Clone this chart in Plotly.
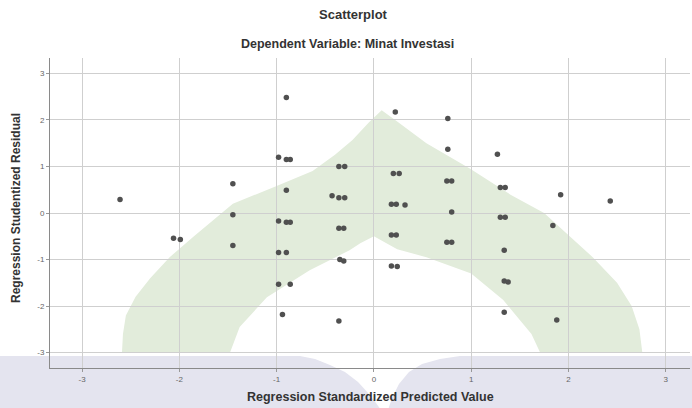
import plotly.graph_objects as go

# ---- data ----
pred_x = [-2.61, -2.06, -1.99, -1.45, -1.45, -1.45,
          -0.98, -0.90, -0.86, -0.90, -0.90, -0.98, -0.90, -0.86, -0.98, -0.90, -0.98, -0.86, -0.94,
          -0.36, -0.30, -0.43, -0.36, -0.30, -0.36, -0.31, -0.35, -0.31, -0.36,
          0.22, 0.20, 0.26, 0.18, 0.23, 0.32, 0.18, 0.23, 0.18, 0.24,
          0.76, 0.76, 0.75, 0.80, 0.80, 0.75, 0.80,
          1.27, 1.30, 1.35, 1.30, 1.35, 1.34, 1.34, 1.38, 1.34,
          1.84, 1.88, 1.92, 2.43]
resid_y = [0.29, -0.54, -0.57, 0.63, -0.04, -0.70,
           1.20, 1.15, 1.15, 2.48, 0.49, -0.17, -0.20, -0.20, -0.85, -0.85, -1.53, -1.53, -2.18,
           1.00, 1.00, 0.37, 0.33, 0.33, -0.33, -0.33, -1.00, -1.03, -2.32,
           2.17, 0.85, 0.85, 0.19, 0.19, 0.17, -0.47, -0.47, -1.14, -1.15,
           2.03, 1.37, 0.69, 0.69, 0.02, -0.63, -0.63,
           1.26, 0.55, 0.55, -0.09, -0.09, -0.80, -1.46, -1.48, -2.13,
           -0.27, -2.30, 0.39, 0.26]
tick_vals = [-3, -2, -1, 0, 1, 2, 3]
tick_text = ["-3", "-2", "-1", "0", "1", "2", "3"]

# decorative green arch outline (data coords)
arch_outer = [(-2.59, -3.0), (-2.58, -2.6), (-2.55, -2.2), (-2.45, -1.8), (-2.3, -1.4),
              (-2.1, -0.95), (-1.85, -0.5), (-1.45, 0.2), (-1.0, 0.58), (-0.63, 0.9),
              (-0.4, 1.25), (-0.22, 1.57), (-0.05, 1.95), (0.08, 2.21),
              (0.25, 1.95), (0.54, 1.5), (0.99, 0.95), (1.4, 0.4), (1.75, 0.0),
              (2.25, -0.95), (2.5, -1.5), (2.65, -2.0), (2.73, -2.5), (2.76, -3.0)]
arch_inner = [(1.71, -3.0), (1.62, -2.6), (1.5, -2.3), (1.33, -1.87), (1.0, -1.3),
              (0.54, -0.95), (0.24, -0.78), (0.0, -0.5), (-0.14, -0.65), (-0.25, -0.8),
              (-0.66, -1.23), (-1.1, -1.81), (-1.38, -2.45), (-1.48, -3.0)]

# plot-area pixel geometry
W, H = 692, 408
L, R, T, B = 50, 2, 58, 40
PW, PH = W - L - R, H - T - B


def px2paper(px, py):
    return (px - L) / PW, (H - B - py) / PH


def path_from(points):
    return "M " + " L ".join(f"{x:.4f},{y:.4f}" for x, y in points) + " Z"


wedge_px = [(285, 354), (300, 356), (315, 359), (330, 365), (345, 372), (358, 382),
            (368, 393), (376, 403), (381, 410), (388, 410), (392, 398), (399, 384),
            (409, 372), (422, 364), (440, 359), (460, 356), (480, 354)]

fig = go.Figure()
fig.add_trace(go.Scatter(
    x=pred_x, y=resid_y, mode="markers",
    marker=dict(size=5.5, color="#505050", line=dict(width=0)),
    hoverinfo="x+y", showlegend=False))

shapes = []
# lavender band at bottom
x0, y0 = px2paper(0, 356)
x1, y1 = px2paper(W, H + 2)
shapes.append(dict(type="rect", xref="paper", yref="paper", x0=x0, x1=x1, y0=y1, y1=y0,
                   fillcolor="#e4e4ef", line=dict(width=0), layer="below"))
shapes.append(dict(type="path", xref="paper", yref="paper",
                   path=path_from([px2paper(a, b) for a, b in wedge_px]),
                   fillcolor="#ffffff", line=dict(width=0), layer="below"))
# green arch
shapes.append(dict(type="path", xref="x", yref="y",
                   path=path_from(arch_outer + arch_inner),
                   fillcolor="#e2ecdb", line=dict(width=0), layer="below"))

font_family = "Liberation Sans"
annotations = [
    dict(text="<b>Scatterplot</b>", x=px2paper(353, 0)[0], y=px2paper(0, 14)[1],
         xref="paper", yref="paper", showarrow=False, font=dict(size=13, color="#333"),
         xanchor="center", yanchor="middle"),
    dict(text="<b>Dependent Variable: Minat Investasi</b>", x=px2paper(347, 0)[0],
         y=px2paper(0, 44)[1], xref="paper", yref="paper", showarrow=False,
         font=dict(size=12.5, color="#333"), xanchor="center", yanchor="middle"),
    dict(text="<b>Regression Standardized Predicted Value</b>", x=px2paper(370, 0)[0],
         y=px2paper(0, 397)[1], xref="paper", yref="paper", showarrow=False,
         font=dict(size=12.5, color="#333"), xanchor="center", yanchor="middle"),
    dict(text="<b>Regression Studentized Residual</b>", x=px2paper(16, 0)[0],
         y=px2paper(0, 208)[1], xref="paper", yref="paper", showarrow=False, textangle=-90,
         font=dict(size=12, color="#333"), xanchor="center", yanchor="middle"),
]

fig.update_layout(
    width=W, height=H,
    margin=dict(l=L, r=R, t=T, b=B),
    paper_bgcolor="white", plot_bgcolor="white",
    font=dict(family=font_family, color="#555"),
    shapes=shapes, annotations=annotations,
    xaxis=dict(range=[-3.33, 3.25], tickvals=tick_vals, ticktext=tick_text,
               showgrid=True, gridcolor="#cfcfcf", gridwidth=1, zeroline=False,
               showline=True, linecolor="#8a8a8a", linewidth=1,
               ticks="outside", ticklen=3, tickcolor="#999",
               tickfont=dict(size=8, color="#666")),
    yaxis=dict(range=[-3.33, 3.33], tickvals=tick_vals, ticktext=tick_text,
               showgrid=True, gridcolor="#cfcfcf", gridwidth=1, zeroline=False,
               showline=True, linecolor="#8a8a8a", linewidth=1,
               ticks="outside", ticklen=3, tickcolor="#999",
               tickfont=dict(size=8, color="#666")),
)

fig.write_html("out.html",
               config={"displayModeBar": False},
               post_script="document.body.style.margin='0px';"
                           "document.body.style.overflow='hidden';")
